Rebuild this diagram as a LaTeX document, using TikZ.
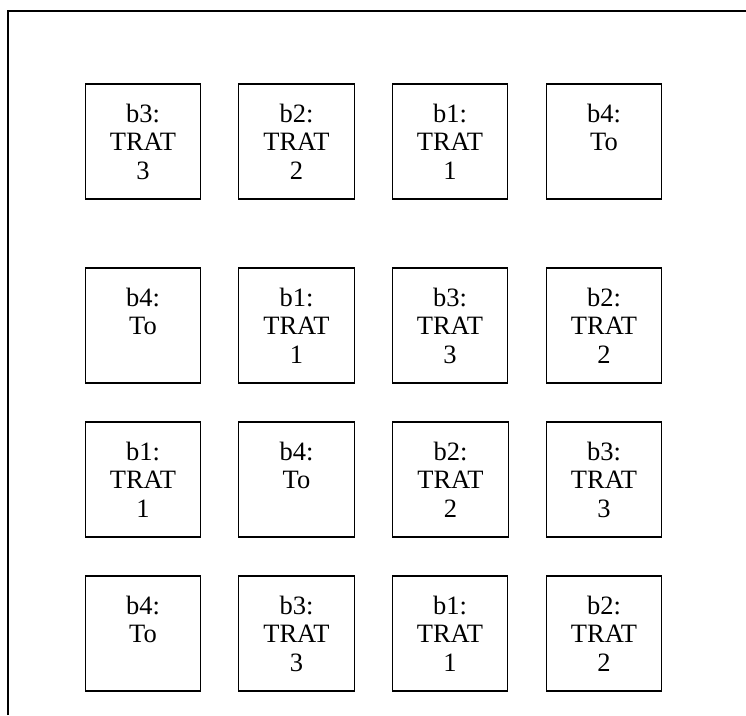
\documentclass[tikz,border=0pt]{standalone}
\usepackage{fontspec}
\setmainfont{Liberation Serif}
\begin{document}
\begin{tikzpicture}[x=1pt,y=-1pt,
  plot/.style={draw,line width=1.3pt,minimum width=115.5pt,minimum height=115pt,
    inner sep=0pt,text width=110pt,align=center,
    font=\fontsize{26.5}{28.5}\selectfont}]
\useasboundingbox (0,0) rectangle (746,715);
\draw[line width=1.6pt] (8,715) -- (8,11) -- (746,11);
% row 1
\node[plot] (a1) at (143,141.5) {b3:\\TRAT\\3};
\node[plot] (a2) at (296.5,141.5) {b2:\\TRAT\\2};
\node[plot] (a3) at (450,141.5) {b1:\\TRAT\\1};
\node[plot] (a4) at (604,141.5) {b4:\\To\\\mbox{}};
% row 2
\node[plot] (b1) at (143,325.5) {b4:\\To\\\mbox{}};
\node[plot] (b2) at (296.5,325.5) {b1:\\TRAT\\1};
\node[plot] (b3) at (450,325.5) {b3:\\TRAT\\3};
\node[plot] (b4) at (604,325.5) {b2:\\TRAT\\2};
% row 3
\node[plot] (c1) at (143,479.5) {b1:\\TRAT\\1};
\node[plot] (c2) at (296.5,479.5) {b4:\\To\\\mbox{}};
\node[plot] (c3) at (450.5,479.5) {b2:\\TRAT\\2};
\node[plot] (c4) at (604,479.5) {b3:\\TRAT\\3};
% row 4
\node[plot] (d1) at (143,633.5) {b4:\\To\\\mbox{}};
\node[plot] (d2) at (296.5,633.5) {b3:\\TRAT\\3};
\node[plot] (d3) at (450,633.5) {b1:\\TRAT\\1};
\node[plot] (d4) at (604,633.5) {b2:\\TRAT\\2};
\end{tikzpicture}
\end{document}
